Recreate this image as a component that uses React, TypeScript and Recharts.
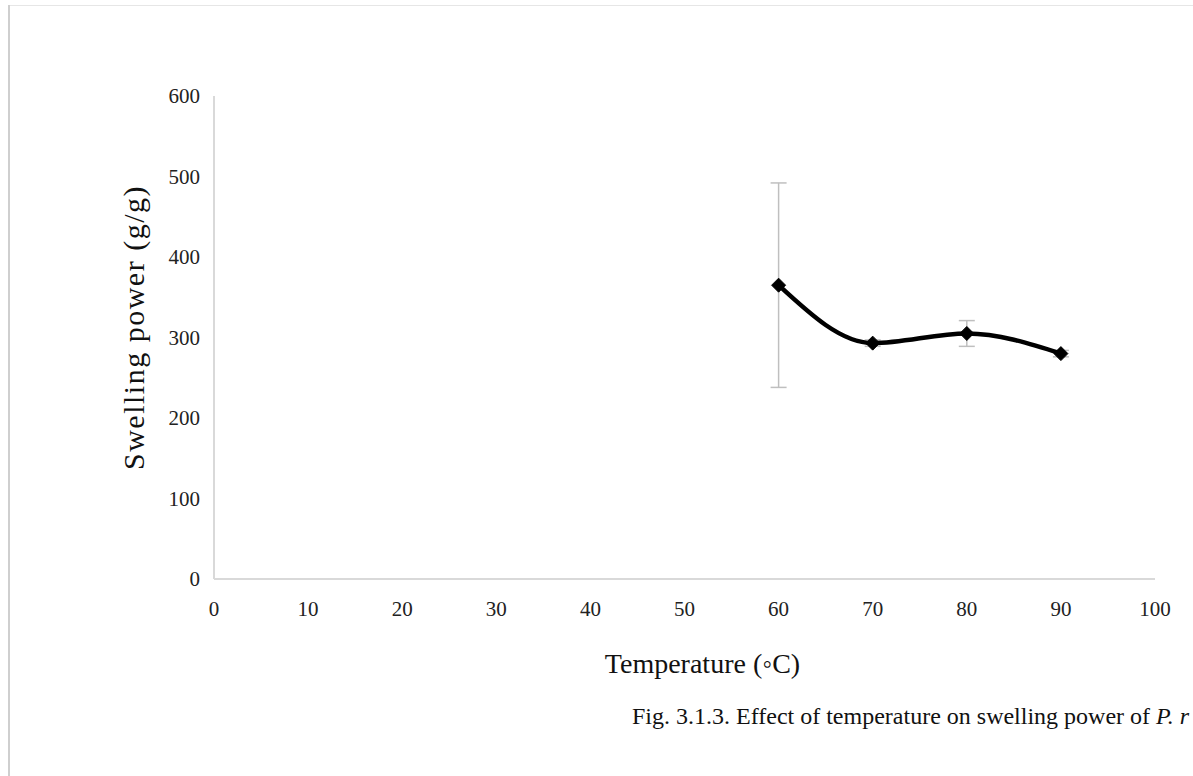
import { LineChart, Line, XAxis, YAxis, ErrorBar } from 'recharts';

// Temperature (°C)
const temps = [60, 70, 80, 90];
// Swelling power (g/g)
const swelling = [365, 293, 305, 280];
// standard deviation (y error)
const swellingErr = [127, 4, 16, 4];
// small horizontal error bars drawn by the spreadsheet
const tempErr = [0.5, 0.5, 0.5, 0.5];

const xTicks = [0, 10, 20, 30, 40, 50, 60, 70, 80, 90, 100];
const yTicks = [0, 100, 200, 300, 400, 500, 600];

const data = temps.map((t, i) => ({
  temp: t,
  swelling: swelling[i],
  err: swellingErr[i],
  errX: tempErr[i],
}));

const serif = '"Liberation Serif", "Times New Roman", serif';
const axisGray = '#d9d9d9';

const Diamond = (props: any) => {
  const { cx, cy, index } = props;
  if (cx == null || cy == null) return <g key={index} />;
  const r = 7;
  return (
    <polygon
      key={index}
      points={`${cx},${cy - r} ${cx + r},${cy} ${cx},${cy + r} ${cx - r},${cy}`}
      fill="#000"
      stroke="#000"
    />
  );
};

// axis titles, placed from the box that recharts hands the label
const XTitle = ({ viewBox }: any) => (
  <text
    x={viewBox.x + viewBox.width / 2 + 18}
    y={viewBox.y + 94}
    textAnchor="middle"
    fill="#111"
    fontFamily={serif}
    fontSize={28}
  >
    Temperature (◦C)
  </text>
);

const YTitle = ({ viewBox }: any) => {
  const cx = viewBox.x - 21;
  const cy = viewBox.y + viewBox.height / 2 - 10;
  return (
    <text
      x={cx}
      y={cy}
      transform={`rotate(-90, ${cx}, ${cy})`}
      textAnchor="middle"
      dominantBaseline="central"
      fill="#111"
      fontFamily={serif}
      fontSize={30}
      letterSpacing={1.5}
    >
      Swelling power (g/g)
    </text>
  );
};

export default function App() {
  return (
    <div
      style={{
        position: 'absolute',
        left: 0,
        top: 0,
        width: 1193,
        height: 776,
        background: '#fff',
        overflow: 'hidden',
        fontFamily: serif,
      }}
    >
      {/* page edges */}
      <div style={{ position: 'absolute', left: 9, top: 5, width: 1184, height: 1, background: '#e6e6e6' }} />
      <div style={{ position: 'absolute', left: 8, top: 5, width: 2, height: 771, background: '#cfcfcf' }} />

      <div style={{ position: 'absolute', left: 0, top: 0 }}>
        <LineChart
          width={1193}
          height={776}
          data={data}
          margin={{ top: 96, right: 38, bottom: 167, left: 154 }}
        >
          <XAxis
            dataKey="temp"
            type="number"
            domain={[0, 100]}
            ticks={xTicks}
            interval={0}
            height={30}
            axisLine={{ stroke: axisGray, strokeWidth: 2 }}
            tickLine={false}
            tickMargin={16}
            tick={{ fill: '#222', fontFamily: serif, fontSize: 21 }}
            label={<XTitle />}
          />
          <YAxis
            type="number"
            domain={[0, 600]}
            ticks={yTicks}
            interval={0}
            width={60}
            axisLine={{ stroke: axisGray, strokeWidth: 2 }}
            tickLine={false}
            tickMargin={8}
            tick={{ fill: '#222', fontFamily: serif, fontSize: 21 }}
            label={<YTitle />}
          />
          <Line
            dataKey="swelling"
            type="monotone"
            stroke="#000"
            strokeWidth={4.5}
            dot={Diamond}
            activeDot={false}
            isAnimationActive={false}
          >
            <ErrorBar dataKey="err" direction="y" width={8} stroke="#bfbfbf" strokeWidth={1.5} />
            <ErrorBar dataKey="errX" direction="x" width={8} stroke="#d0d0d0" strokeWidth={1.5} />
          </Line>
        </LineChart>
      </div>

      <div
        style={{
          position: 'absolute',
          left: 632,
          top: 703,
          fontSize: 24,
          color: '#111',
          whiteSpace: 'nowrap',
        }}
      >
        Fig. 3.1.3. Effect of temperature on swelling power of <i>P. r</i>
      </div>
    </div>
  );
}
